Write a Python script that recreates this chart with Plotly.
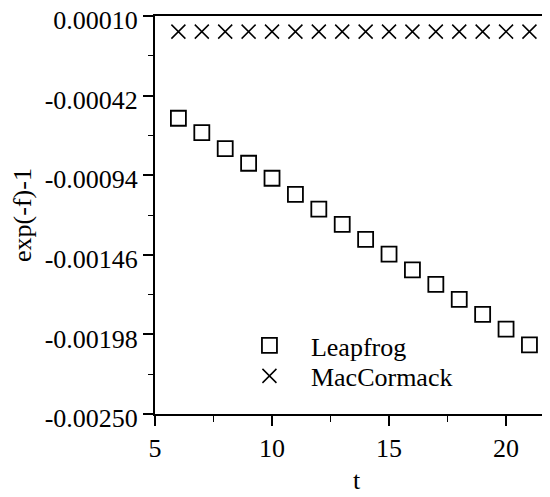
import plotly.graph_objects as go

t_leap = [6, 7, 8, 9, 10, 11, 12, 13, 14, 15, 16, 17, 18, 19, 20, 21]
leapfrog = [-0.000568, -0.000662, -0.000767, -0.000862, -0.000960, -0.001065,
            -0.001161, -0.001261, -0.001359, -0.001455, -0.001559, -0.001653,
            -0.001751, -0.001849, -0.001945, -0.002049]
t_mac = [6, 7, 8, 9, 10, 11, 12, 13, 14, 15, 16, 17, 18, 19, 20, 21]
maccormack = [-0.000002] * 16

y_ticks = [-0.00250, -0.00198, -0.00146, -0.00094, -0.00042, 0.00010]
y_ticktext = ["-0.00250", "-0.00198", "-0.00146", "-0.00094", "-0.00042", "0.00010"]
x_ticks = [5, 10, 15, 20]

FONT = "Liberation Serif, Times New Roman, serif"
FS = 26

fig = go.Figure()
fig.add_trace(go.Scatter(
    x=t_leap, y=leapfrog, mode="markers", name="Leapfrog", legend="legend",
    marker=dict(symbol="square-open", size=15, color="black", line=dict(width=1.8, color="black")),
))
fig.add_trace(go.Scatter(
    x=t_mac, y=maccormack, mode="markers", name="MacCormack", legend="legend2",
    marker=dict(symbol="x-thin-open", size=14, color="black", line=dict(width=1.5, color="black")),
))

leg_common = dict(xanchor="left", yanchor="middle", bgcolor="rgba(0,0,0,0)",
                  font=dict(size=FS, family=FONT, color="black"), itemwidth=73)

fig.update_layout(
    width=550, height=497,
    margin=dict(l=147, r=0, t=8, b=91, autoexpand=False),
    paper_bgcolor="white", plot_bgcolor="white",
    font=dict(family=FONT, size=FS, color="black"),
    showlegend=True,
    legend=dict(x=0.181, y=0.172, **leg_common),
    legend2=dict(x=0.181, y=0.0955, **leg_common),
    xaxis=dict(
        range=[5, 22.22], tickvals=x_ticks, ticks="outside", ticklen=10, tickwidth=1.5,
        tickcolor="black", showline=True, linecolor="black", linewidth=2, mirror=True,
        showgrid=False, zeroline=False, automargin=False,
        minor=dict(dtick=2.5, tick0=5, ticks="outside", ticklen=6, tickwidth=1.2, tickcolor="black"),
        title=dict(text="t", font=dict(size=FS, family=FONT), standoff=9),
        tickfont=dict(size=FS, family=FONT),
    ),
    yaxis=dict(
        range=[-0.00250, 0.00010], tickvals=y_ticks, ticktext=y_ticktext,
        ticks="outside", ticklen=10, tickwidth=1.5, tickcolor="black",
        showline=True, linecolor="black", linewidth=2, showgrid=False, zeroline=False,
        automargin=False, ticklabeloverflow="allow", ticklabelshift=4,
        minor=dict(dtick=0.00026, tick0=-0.0025, ticks="outside", ticklen=5, tickwidth=1.2, tickcolor="black"),
        title=dict(text="exp(-f)-1", font=dict(size=FS, family=FONT), standoff=13),
        tickfont=dict(size=FS, family=FONT),
    ),
)

fig.write_html("out.html")
